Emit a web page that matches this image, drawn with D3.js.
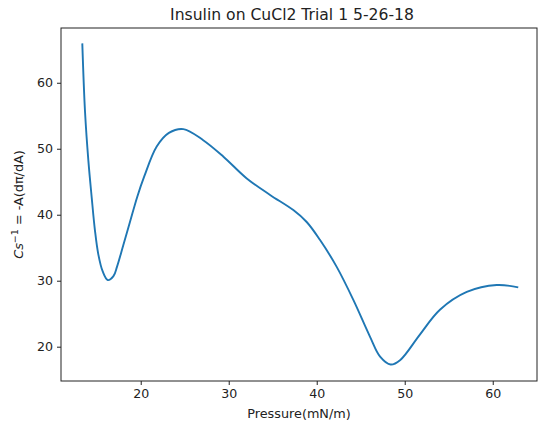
<!DOCTYPE html>
<html>
<head>
<meta charset="utf-8">
<script src="https://cdn.jsdelivr.net/npm/d3@7"></script>
<style>
  body { margin: 0; background: #fff; }
  svg { font-family: "DejaVu Sans", sans-serif; }
</style>
</head>
<body>
<svg width="538" height="429"></svg>
<script>
// readings (surface pressure, compressional modulus)
const pressure = [13.36, 13.67, 14.05, 14.43, 14.8, 15.18, 15.68, 16.25, 16.9, 17.3, 18.0, 18.8, 19.6, 20.4, 21.8, 23.2, 24.84,
  27.1, 29.4, 32.05, 34.7, 37.34, 38.86, 40.36, 42.27, 44.16, 46.06, 47.2, 48.4, 49.5, 51.7, 54.0, 57.05, 60.45, 62.9];
const modulus = [65.97, 55.6, 48.2, 42.6, 37.6, 34.0, 31.4, 30.1, 30.7, 32.1, 35.3, 39.0, 42.7, 45.8, 50.3, 52.4, 52.98,
  51.3, 48.8, 45.5, 43.0, 40.7, 38.9, 36.2, 32.1, 27.1, 21.5, 18.5, 17.3, 18.0, 21.8, 25.6, 28.3, 29.35, 29.0];
const xTicks = [20, 30, 40, 50, 60];
const yTicks = [20, 30, 40, 50, 60];

function Start(){
    const svg = d3.select('svg');
    const margin = { top:28, right:1, bottom:48, left:61 };
    const innerWidth = +svg.attr('width') - margin.left - margin.right;
    const innerHeight = +svg.attr('height') - margin.top - margin.bottom;

    const data = pressure.map((p, i) => ({ p: p, m: modulus[i] }));

    const xscale = d3.scaleLinear().domain([10.94, 65.03]).range([0, innerWidth]);
    const yscale = d3.scaleLinear().domain([14.8, 68.3]).range([innerHeight, 0]);

    const g = svg.append('g')
        .attr('transform', `translate(${margin.left},${margin.top})`);

    const xAxis = g.append('g')
        .attr('transform', `translate(0,${innerHeight})`)
        .call(d3.axisBottom(xscale).tickValues(xTicks).tickSize(4).tickPadding(4));
    const yAxis = g.append('g')
        .call(d3.axisLeft(yscale).tickValues(yTicks).tickSize(4).tickPadding(4));
    [xAxis, yAxis].forEach(a => {
        a.select('.domain').remove();
        a.selectAll('text').attr('font-size', 12.6).attr('fill', '#222').attr('font-family', '"DejaVu Sans", sans-serif');
        a.selectAll('line').attr('stroke', '#222');
    });

    g.append('rect')
        .attr('width', innerWidth).attr('height', innerHeight)
        .attr('fill', 'none').attr('stroke', '#222').attr('stroke-width', 1);

    const line = d3.line()
        .x(d => xscale(d.p))
        .y(d => yscale(d.m))
        .curve(d3.curveCatmullRom.alpha(0.5));

    g.append('path').datum(data)
        .attr('d', line)
        .attr('fill', 'none')
        .attr('stroke', '#1f77b4')
        .attr('stroke-width', 1.9);

    svg.append('text')
        .attr('x', margin.left + innerWidth / 2 - 7).attr('y', 20)
        .attr('text-anchor', 'middle').attr('font-size', 15.6).attr('fill', '#222')
        .text('Insulin on CuCl2 Trial 1 5-26-18');

    svg.append('text')
        .attr('x', margin.left + innerWidth / 2).attr('y', 418)
        .attr('text-anchor', 'middle').attr('font-size', 12.8).attr('fill', '#222')
        .text('Pressure(mN/m)');

    const yl = svg.append('text')
        .attr('transform', `translate(23,${margin.top + innerHeight / 2}) rotate(-90)`)
        .attr('text-anchor', 'middle').attr('font-size', 12.8).attr('fill', '#222');
    yl.append('tspan').attr('font-style', 'italic').text('Cs');
    yl.append('tspan').attr('dy', -5).attr('font-size', 9.5).text('−1');
    yl.append('tspan').attr('dy', 5).text(' = -A(dπ/dA)');
}
Start();
</script>
</body>
</html>
